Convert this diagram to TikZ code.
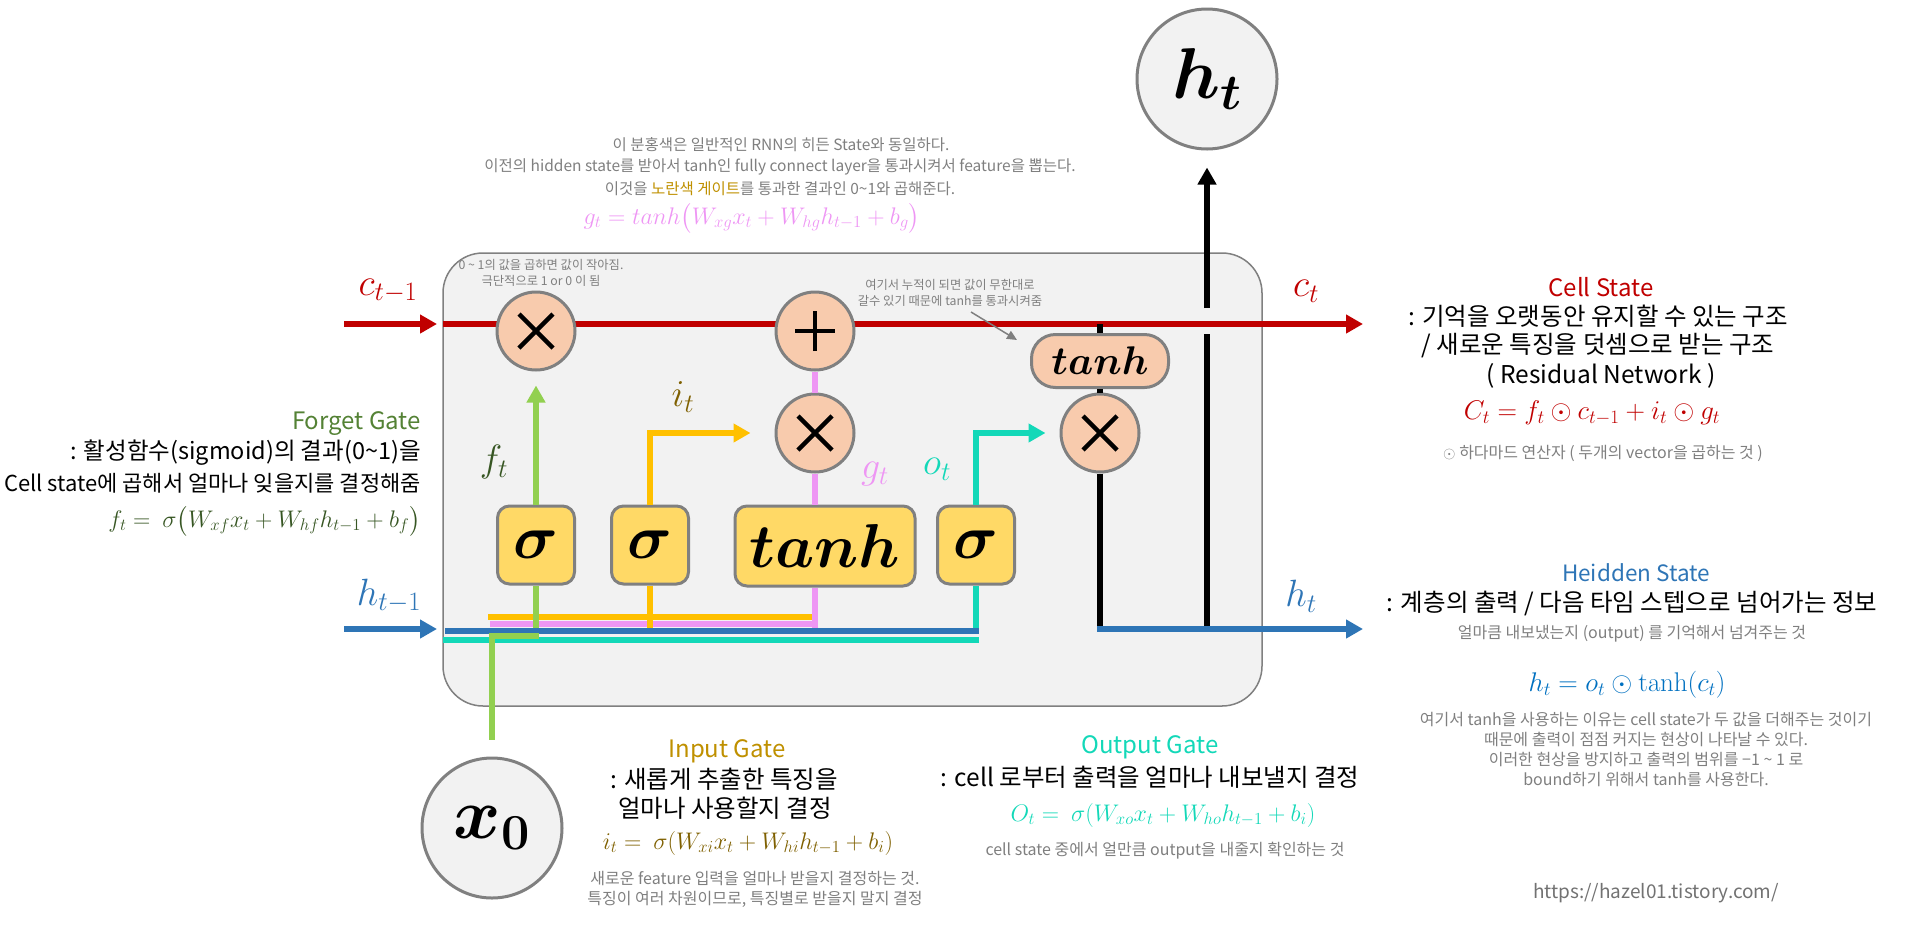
\documentclass[tikz,border=0pt]{standalone}
\usepackage{fix-cm}
\usepackage{amsmath}
\usepackage{bm}
\usepackage[no-math]{fontspec}
\setmainfont{Noto Sans CJK KR}
\usetikzlibrary{arrows.meta}

\definecolor{cellred}{HTML}{C00000}
\definecolor{hidblue}{HTML}{2E75B6}
\definecolor{htblue}{HTML}{0070C0}
\definecolor{fgreen}{HTML}{92D050}
\definecolor{fdark}{HTML}{375623}
\definecolor{ftitle}{HTML}{548235}
\definecolor{iyellow}{HTML}{FFC000}
\definecolor{idark}{HTML}{7F6000}
\definecolor{ititle}{HTML}{BF9000}
\definecolor{gpink}{HTML}{EE96F4}
\definecolor{oteal}{HTML}{13D8B8}
\definecolor{notegray}{HTML}{7F7F7F}
\definecolor{opfill}{HTML}{F8CBAD}
\definecolor{gatefill}{HTML}{FFD966}
\definecolor{cellbg}{HTML}{F2F2F2}
\definecolor{rimgray}{HTML}{808080}

\begin{document}
\begin{tikzpicture}[x=1pt, y=-1pt,
  txt/.style={font=\fontsize{24.5}{30}\selectfont, inner sep=0pt},
  ttl/.style={font=\fontsize{24}{30}\selectfont, inner sep=0pt},
  note/.style={font=\fontsize{16}{20}\selectfont, text=notegray, align=center, inner sep=0pt},
  memo/.style={font=\fontsize{12.3}{16}\selectfont, text=notegray, align=center, inner sep=0pt},
  eq/.style={font=\fontsize{24}{28}\selectfont, inner sep=0pt},
  lbl/.style={font=\fontsize{38}{42}\selectfont, inner sep=0pt},
  opnode/.style={circle, draw=rimgray, line width=3pt, fill=opfill, minimum size=78pt, inner sep=0pt},
  mulop/.style={opnode, path picture={
    \draw[black, line width=4.5pt] ([shift={(-17pt,-17pt)}]path picture bounding box.center) -- ([shift={(17pt,17pt)}]path picture bounding box.center)
      ([shift={(-17pt,17pt)}]path picture bounding box.center) -- ([shift={(17pt,-17pt)}]path picture bounding box.center);}},
  addop/.style={opnode, path picture={
    \draw[black, line width=4.5pt] ([shift={(-20pt,0pt)}]path picture bounding box.center) -- ([shift={(20pt,0pt)}]path picture bounding box.center)
      ([shift={(0pt,-20pt)}]path picture bounding box.center) -- ([shift={(0pt,20pt)}]path picture bounding box.center);}},
  gatebox/.style={draw=rimgray, line width=3pt, fill=gatefill, rounded corners=12pt, minimum width=77pt, minimum height=78pt, inner sep=0pt, font=\fontsize{62}{62}\selectfont},
  thbox/.style={draw=rimgray, line width=3pt, fill=opfill, rounded corners=24pt, minimum width=137pt, minimum height=53pt, inner sep=0pt, font=\fontsize{40}{40}\selectfont},
  iocirc/.style={circle, draw=rimgray, line width=3pt, fill=cellbg, minimum size=140pt, inner sep=0pt, font=\fontsize{72}{72}\selectfont},
  headed/.style={-{Triangle[length=17pt,width=18pt]}},
  cline/.style={cellred, line width=6.5pt},
  hline/.style={hidblue, line width=5.5pt},
  kline/.style={black, line width=6pt},
  fline/.style={fgreen, line width=5.5pt},
  iline/.style={iyellow, line width=5.5pt},
  gline/.style={gpink, line width=5.5pt},
  oline/.style={oteal, line width=5.5pt}]
  \useasboundingbox (0,0) rectangle (1915,930);

  % 셀 박스
  \node[draw=rimgray, line width=1.5pt, fill=cellbg, rounded corners=40pt, minimum width=819pt, minimum height=453pt] (cell) at (852.5,479.5) {};

  % 셀 상태 / 히든 상태 입력
  \coordinate (cprev) at (344,324);
  \coordinate (cin) at (437,324);
  \coordinate (cstart) at (443,324);
  \coordinate (cnext) at (1363,324);
  \coordinate (hprev) at (344,629);
  \coordinate (hin) at (437,629);
  \coordinate (hnext) at (1363,629);
  \draw[cline, headed] (cprev) -- (cin);
  \draw[cline, headed] (cstart) -- (cnext);
  \draw[hline, headed] (hprev) -- (hin);

  % 연산
  \node[mulop] (mf) at (536,331) {};
  \node[addop] (ma) at (815,331) {};
  \node[mulop] (mi) at (815,433) {};
  \node[mulop] (mo) at (1100,433) {};
  \node[thbox] (tc) at (1100,361) {$\bm{tanh}$};

  % 게이트
  \node[gatebox] (sf) at (536,545) {$\bm{\sigma}$};
  \node[gatebox] (si) at (650,545) {$\bm{\sigma}$};
  \node[gatebox, minimum width=180pt, minimum height=80pt] (tg) at (825,546) {$\bm{tanh}$};
  \node[gatebox] (so) at (976,545) {$\bm{\sigma}$};

  % 입출력
  \node[iocirc] (ht) at (1207,79) {$\bm{h_t}$};
  \node[iocirc] (x0) at (492,828) {$\bm{x_0}$};

  % 게이트 출력
  \draw[fline, headed, shorten >=14pt] (sf) -- (mf);
  \draw[iline, headed, shorten >=24pt] (si.north) |- (mi.west);
  \draw[oline, headed, shorten >=14pt] (so.north) |- (mo.west);
  \draw[gline] (tg.north -| mi) -- (mi);
  \draw[gline] (mi) -- (ma);
  \draw[kline] (tc.north |- cstart) -- (tc.north);
  \draw[kline] (tc) -- (mo);
  \draw[kline] (mo) -- (mo |- hnext);

  % 출력 h_t
  \coordinate (hup) at (1207,629);
  \coordinate (gapb) at (1207,334);
  \coordinate (gapt) at (1207,308);
  \draw[kline] (hup) -- (gapb);
  \draw[kline, headed, shorten >=17pt] (gapt) -- (ht);
  \draw[hline, headed] ([xshift=-3pt]mo |- hnext) -- (hnext);

  % 입력 버스
  \coordinate (obus) at (443,640);
  \coordinate (pbus) at (490,624);
  \coordinate (ybus) at (488,617);
  \coordinate (hbus) at (445,631);
  \coordinate (gbus) at (539,636);
  \draw[oline] (obus) -- ([xshift=3pt]obus -| so);
  \draw[gline] (pbus) -- (pbus -| mi);
  \draw[iline] (ybus) -- (ybus -| mi);
  \draw[fline] (sf) -- (sf |- hbus);
  \draw[iline] (si) -- (si |- hbus);
  \draw[gline] (tg.south -| mi) -- (mi |- hbus);
  \draw[oline] (so) -- (so |- hbus);
  \draw[hline] (hbus) -- ([xshift=3pt]hbus -| so);
  \draw[fline] ([yshift=17pt]x0.north) |- (gbus);

  % 라벨
  \node[lbl, text=cellred] (lcp) at (388,291) {$c_{t-1}$};
  \node[lbl, text=hidblue] (lhp) at (389,596) {$h_{t-1}$};
  \node[lbl, text=cellred] (lcn) at (1306,291) {$c_t$};
  \node[lbl, text=hidblue] (lhn) at (1301,596) {$h_t$};
  \node[lbl, text=fdark] (lf) at (494,462) {$f_t$};
  \node[lbl, text=idark] (li) at (683,397) {$i_t$};
  \node[lbl, text=gpink] (lg) at (875,474) {$g_t$};
  \node[lbl, text=oteal] (lo) at (937,469) {$o_t$};

  % 설명 (위)
  \node[note, font=\fontsize{15.5}{20}\selectfont] (pink1) at (781,145) {이 분홍색은 일반적인 RNN의 히든 State와 동일하다.};
  \node[note, font=\fontsize{15.5}{20}\selectfont] (pink2) at (780,167) {이전의 hidden state를 받아서 tanh인 fully connect layer을 통과시켜서 feature을 뽑는다.};
  \node[note, font=\fontsize{15.5}{20}\selectfont] (pink3) at (780,189) {이것을 {\color{ititle}노란색 게이트}를 통과한 결과인 0\textasciitilde1와 곱해준다.};
  \node[eq, text=gpink] (geq) at (752,218) {$g_t = tanh\bigl(W_{xg}x_t + W_{hg}h_{t-1} + b_g\bigr)$};

  \node[memo] (memo1) at (541,273) {0 \textasciitilde{} 1의 값을 곱하면 값이 작아짐.\\극단적으로 1 or 0 이 됨};
  \node[memo] (memo2) at (950,293) {여기서 누적이 되면 값이 무한대로\\갈수 있기 때문에 tanh를 통과시켜줌};
  \coordinate (m2a) at (971,312);
  \coordinate (m2b) at (1017,340);
  \draw[notegray, line width=1.5pt, -{Triangle[length=10pt,width=9pt]}] (m2a) -- (m2b);

  % Forget Gate
  \node[ttl, text=ftitle, anchor=east] (fgt) at (421,424) {Forget Gate};
  \node[txt, font=\fontsize{23.5}{30}\selectfont, anchor=east] (fg1) at (421,453) {: 활성함수(sigmoid)의 결과(0\textasciitilde1)을};
  \node[txt, font=\fontsize{22}{30}\selectfont, anchor=east] (fg2) at (421,483) {Cell state에 곱해서 얼마나 잊을지를 결정해줌};
  \node[eq, text=fdark, anchor=east] (feq) at (421,521) {$f_t =\ \sigma\bigl(W_{xf}x_t + W_{hf}h_{t-1} + b_f\bigr)$};

  % Cell State
  \node[ttl, text=cellred] (cst) at (1601,287) {Cell State};
  \node[txt] (cs1) at (1598,316) {: 기억을 오랫동안 유지할 수 있는 구조};
  \node[txt] (cs2) at (1598,346) {/ 새로운 특징을 덧셈으로 받는 구조};
  \node[txt] (cs3) at (1601,376) {( Residual Network )};
  \node[eq, font=\fontsize{27}{30}\selectfont, text=cellred] (ceq) at (1592,413) {$C_t = f_t \odot c_{t-1} + i_t \odot g_t$};
  \node[note] (csn) at (1603,453) {$\odot$ 하다마드 연산자 ( 두개의 vector을 곱하는 것 )};

  % Heidden State
  \node[ttl, font=\fontsize{22.5}{30}\selectfont, text=hidblue] (hst) at (1636,573) {Heidden State};
  \node[txt] (hs1) at (1632,603) {: 계층의 출력 / 다음 타임 스텝으로 넘어가는 정보};
  \node[note] (hsn) at (1632,634) {얼마큼 내보냈는지 (output) 를 기억해서 넘겨주는 것};
  \node[eq, font=\fontsize{27}{30}\selectfont, text=htblue] (heq) at (1627,685) {$h_t = o_t \odot \tanh(c_t)$};
  \node[note] (hsn2) at (1646,750) {여기서 tanh을 사용하는 이유는 cell state가 두 값을 더해주는 것이기\\
    때문에 출력이 점점 커지는 현상이 나타날 수 있다.\\
    이러한 현상을 방지하고 출력의 범위를 −1 \textasciitilde{} 1 로\\
    bound하기 위해서 tanh를 사용한다.};

  % Input Gate
  \node[ttl, text=ititle] (igt) at (727,751) {Input Gate};
  \node[txt] (ig1) at (724,779) {: 새롭게 추출한 특징을};
  \node[txt] (ig2) at (725,808) {얼마나 사용할지 결정};
  \node[eq, text=idark] (ieq) at (748,843) {$i_t =\ \sigma(W_{xi}x_t + W_{hi}h_{t-1} + b_i)$};
  \node[note] (ign) at (755,889) {새로운 feature 입력을 얼마나 받을지 결정하는 것.\\특징이 여러 차원이므로, 특징별로 받을지 말지 결정};

  % Output Gate
  \node[ttl, text=oteal] (ogt) at (1150,747) {Output Gate};
  \node[txt] (og1) at (1150,777) {: cell 로부터 출력을 얼마나 내보낼지 결정};
  \node[eq, text=oteal] (oeq) at (1163,815) {$O_t =\ \sigma(W_{xo}x_t + W_{ho}h_{t-1} + b_i)$};
  \node[note] (ogn) at (1165,851) {cell state 중에서 얼만큼 output을 내줄지 확인하는 것};

  \node[font=\fontsize{19}{22}\selectfont, text=notegray!90!black, inner sep=0pt] (url) at (1656,893) {https://hazel01.tistory.com/};
\end{tikzpicture}
\end{document}
